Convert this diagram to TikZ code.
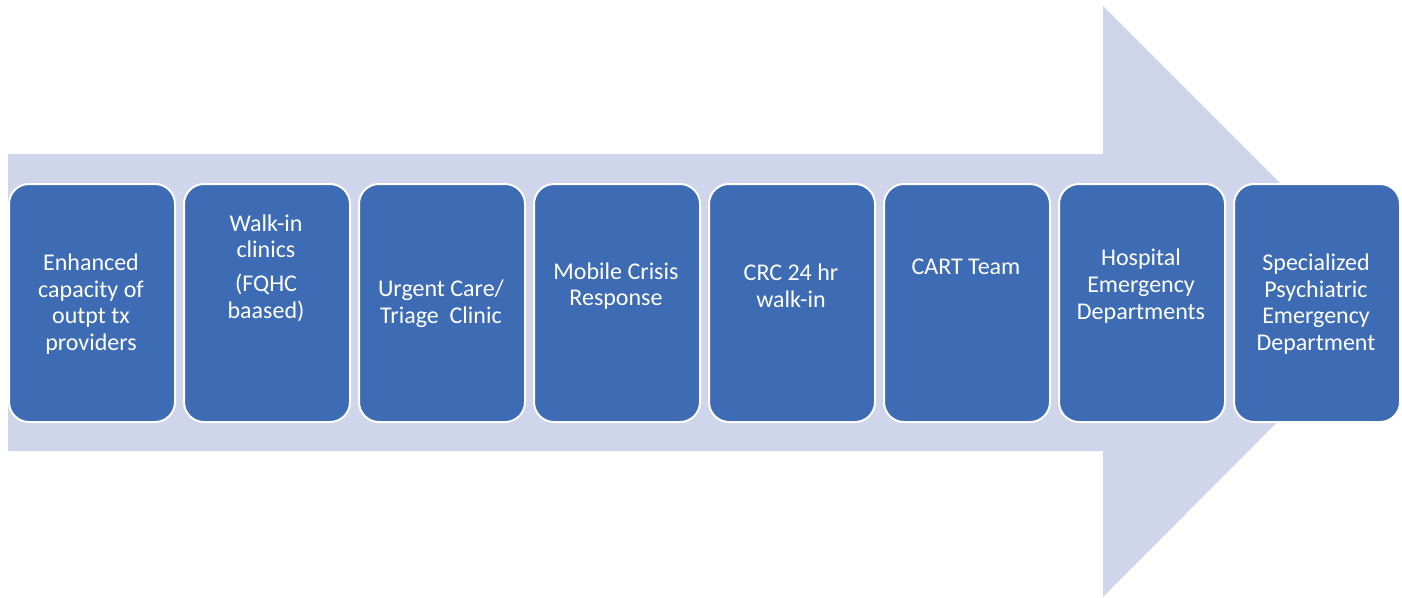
\documentclass[tikz,border=0pt]{standalone}
\usepackage{fontspec}
\setmainfont{Carlito}
\definecolor{arrowfill}{HTML}{CFD5EA}
\definecolor{boxfill}{HTML}{3D6CB4}
\begin{document}
\begin{tikzpicture}[x=0.75pt,y=-0.75pt,
  stagebox/.style={draw=white,line width=1.5pt,fill=boxfill,rounded corners=15pt,
    minimum width=124.5pt,minimum height=178.5pt,inner sep=0pt,anchor=north west},
  stagetext/.style={text=white,align=center,font=\fontsize{18}{20}\selectfont,inner sep=0pt}]
\useasboundingbox (0,0) rectangle (1402,597);
% big arrow
\fill[arrowfill] (8,154) -- (1103,154) -- (1103,6) -- (1398,301) -- (1103,597) -- (1103,451) -- (8,451) -- cycle;
% boxes
\foreach \i in {0,...,7}{
  \node[stagebox] (b\i) at ({8+175*\i},183) {};
}
\node[stagetext] (t0) at (91,304) {Enhanced\\capacity of\\outpt tx\\providers};
\node[stagetext] (t1) at (266,268) {Walk-in\\clinics\\[5.25pt](FQHC\\baased)};
\node[stagetext] (t2) at (441,304) {Urgent Care/\\Triage\ \ Clinic};
\node[stagetext] (t3) at (616,286) {Mobile Crisis\\Response};
\node[stagetext] (t4) at (791,286) {CRC 24 hr\\walk-in};
\node[stagetext] (t5) at (966,267) {CART Team};
\node[stagetext] (t6) at (1141,286) {Hospital\\Emergency\\Departments};
\node[stagetext] (t7) at (1316,304) {Specialized\\Psychiatric\\Emergency\\Department};
\end{tikzpicture}
\end{document}
